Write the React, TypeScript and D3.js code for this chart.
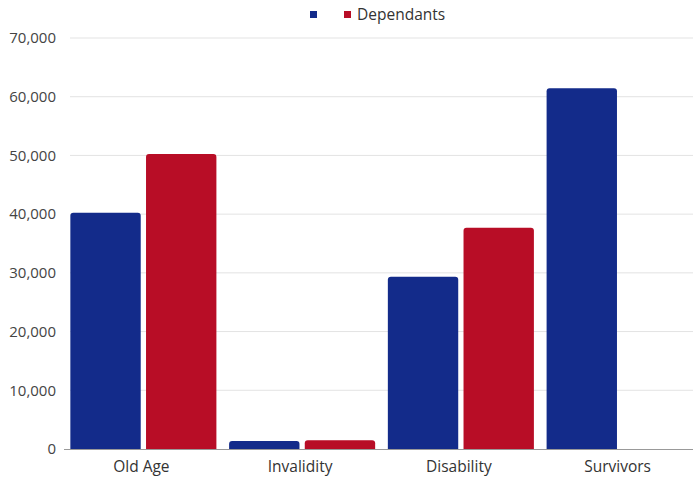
import React from "react";
import * as d3 from "d3";

const categories = ["Old Age", "Invalidity", "Disability", "Survivors"];
const seriesNames = ["", "Dependants"];
const seriesA = [40250, 1350, 29350, 61450];
const seriesB = [50250, 1500, 37700, 0];
const yTicks = [0, 10000, 20000, 30000, 40000, 50000, 60000, 70000];
const colors = ["#132b8a", "#b80d26"];

const W = 693, H = 479;
const left = 64, right = 699, top = 38, bottom = 449;

function topRounded(x: number, y: number, w: number, h: number, r: number) {
  const rr = Math.min(r, h, w / 2);
  return `M${x},${y + h}V${y + rr}Q${x},${y} ${x + rr},${y}H${x + w - rr}Q${x + w},${y} ${x + w},${y + rr}V${y + h}Z`;
}

export default function App() {
  const y = d3.scaleLinear().domain([0, 70000]).range([bottom, top]);
  const x0 = d3.scaleBand<string>().domain(categories).range([left, right]).paddingInner(0.08).paddingOuter(0.04);
  const x1 = d3.scaleBand<number>().domain([0, 1]).range([0, x0.bandwidth()]).paddingInner(0.07);
  const fmt = d3.format(",");
  const series = [seriesA, seriesB];
  const font = "'Open Sans', sans-serif";
  return (
    <svg width={W} height={H} style={{ position: "absolute", left: 0, top: 0, background: "#fff" }}>
      {yTicks.map((t) => (
        <g key={t}>
          {t > 0 && <line x1={70} x2={W} y1={y(t)} y2={y(t)} stroke="#e3e3e3" strokeWidth={1} />}
          <text x={56} y={y(t)} dy="0.35em" textAnchor="end" fontFamily={font} fontSize={15} fill="#444">{fmt(t)}</text>
        </g>
      ))}
      {categories.map((c, i) => (
        <g key={c}>
          {series.map((s, k) =>
            s[i] > 0 ? (
              <path key={k} d={topRounded(x0(c)! + x1(k)!, y(s[i]), x1.bandwidth(), bottom - y(s[i]), 3)} fill={colors[k]} />
            ) : null
          )}
          <text x={x0(c)! + x0.bandwidth() / 2 - 2} y={472} textAnchor="middle" fontFamily={font} fontSize={15.5} fill="#333">{c}</text>
        </g>
      ))}
      <line x1={64} x2={W} y1={bottom + 0.5} y2={bottom + 0.5} stroke="#999" strokeWidth={1} />
      <g>
        <rect x={310} y={11} width={7} height={7} fill={colors[0]} />
        <text x={324} y={15} dy="0.35em" fontFamily={font} fontSize={15} fill="#333">{seriesNames[0]}</text>
        <rect x={344} y={11} width={7} height={7} fill={colors[1]} />
        <text x={357} y={15} dy="0.35em" fontFamily={font} fontSize={15.5} fill="#333">{seriesNames[1]}</text>
      </g>
    </svg>
  );
}
